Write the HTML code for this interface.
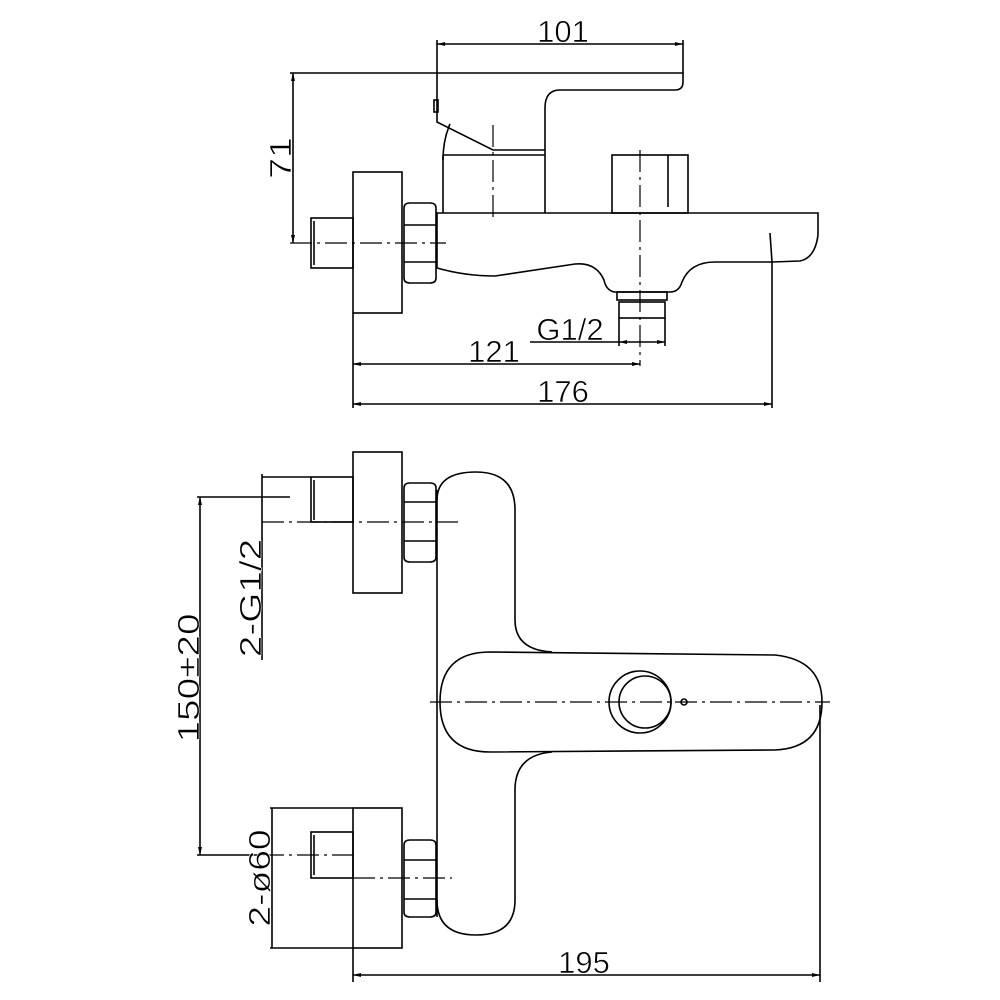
<!DOCTYPE html>
<html><head><meta charset="utf-8"><style>
html,body{margin:0;padding:0;background:#fff;}
svg{display:block;}
text{font-family:"Liberation Sans",sans-serif;font-size:31px;fill:#000;stroke:#fff;stroke-width:0.6px;}
</style></head><body>
<svg width="1000" height="1000" viewBox="0 0 1000 1000" xmlns="http://www.w3.org/2000/svg">
<g fill="none" stroke="#000" stroke-width="1.6">
<line x1="437" y1="44" x2="683" y2="44"/>
<line x1="437" y1="40" x2="437" y2="73"/>
<line x1="683" y1="40" x2="683" y2="73"/>
<line x1="290" y1="73" x2="437" y2="73"/>
<line x1="293" y1="73" x2="293" y2="243"/>
<path d="M437 73 H683 V82 Q683 90 675 90 H560 Q545 90 545 108 V150"/>
<path d="M437 73 V122 L493 150 H545"/>
<rect x="434" y="100" width="4" height="12"/>
<path d="M450 124 Q443 140 443 160"/>
<line x1="443" y1="155" x2="545" y2="155"/>
<line x1="443" y1="155" x2="443" y2="213"/>
<line x1="545" y1="150" x2="545" y2="213"/>
<rect x="612" y="155" width="76" height="58"/>
<line x1="668" y1="155" x2="668" y2="207"/>
<path d="M437 213 H818 V235 Q815 258 800 261 L772 262 H715 Q690 262 682 282 Q679 292 670 292 H614 Q606 290 604 280 Q596 262 575 264 L495 276 Q465 276 437 268 Z"/>
<line x1="770" y1="233" x2="772" y2="262"/>
<rect x="617" y="292" width="50" height="8"/>
<rect x="619" y="302" width="46" height="16"/>
<rect x="353" y="172" width="49" height="141"/>
<path d="M404 208 Q404 203 410 203 H430 Q436 203 436 208 V278 Q436 283 430 283 H410 Q404 283 404 278 Z"/>
<line x1="404" y1="225" x2="436" y2="225"/>
<line x1="404" y1="262" x2="436" y2="262"/>
<rect x="311" y="218" width="42" height="50"/>
<line x1="314" y1="221" x2="314" y2="265"/>
<line x1="530" y1="342" x2="665" y2="342"/>
<line x1="619" y1="318" x2="619" y2="346"/>
<line x1="665" y1="318" x2="665" y2="346"/>
<line x1="353" y1="364" x2="640" y2="364"/>
<line x1="353" y1="404" x2="772" y2="404"/>
<line x1="353" y1="313" x2="353" y2="408"/>
<line x1="772" y1="262" x2="772" y2="408"/>

<rect x="353" y="452" width="49" height="141"/>
<rect x="311" y="477" width="42" height="45"/>
<line x1="314" y1="480" x2="314" y2="520"/>
<path d="M404 488 Q404 483 410 483 H430 Q436 483 436 488 V557 Q436 562 430 562 H410 Q404 562 404 557 Z"/>
<line x1="404" y1="502" x2="436" y2="502"/>
<line x1="404" y1="541" x2="436" y2="541"/>
<line x1="262" y1="477" x2="311" y2="477"/>
<line x1="262" y1="474" x2="262" y2="660"/>
<line x1="197" y1="497" x2="290" y2="497"/>
<line x1="200" y1="497" x2="200" y2="855"/>
<line x1="197" y1="855" x2="260" y2="855"/>

<rect x="353" y="808" width="49" height="140"/>
<line x1="270" y1="808" x2="353" y2="808"/>
<line x1="270" y1="948" x2="353" y2="948"/>
<line x1="272" y1="808" x2="272" y2="948"/>
<rect x="311" y="832" width="42" height="46"/>
<line x1="314" y1="835" x2="314" y2="875"/>
<path d="M404 845 Q404 840 410 840 H430 Q436 840 436 845 V912 Q436 917 430 917 H410 Q404 917 404 912 Z"/>
<line x1="404" y1="860" x2="436" y2="860"/>
<line x1="404" y1="899" x2="436" y2="899"/>

<line x1="437" y1="490" x2="437" y2="917"/>
<path d="M437 500 Q437 472 476 472 Q515 472 515 510 V620 Q515 650 552 652"/>
<path d="M437 900 Q437 935 476 935 Q515 935 515 900 V790 Q515 755 552 752"/>
<path d="M490 652 L775 655 Q822 660 822 702 Q822 748 775 750 L490 752 Q440 752 440 702 Q440 652 490 652 Z"/>
<circle cx="640" cy="702" r="31"/>
<circle cx="645" cy="702" r="26"/>
<circle cx="684" cy="702" r="3"/>
<line x1="353" y1="948" x2="353" y2="982"/>
<line x1="820" y1="705" x2="820" y2="982"/>
<line x1="353" y1="975" x2="820" y2="975"/>
</g>
<g fill="none" stroke="#000" stroke-width="1.2" stroke-dasharray="22 5 3 5">
<line x1="493" y1="125" x2="493" y2="220"/>
<line x1="640" y1="150" x2="640" y2="366"/>
<line x1="290" y1="243" x2="446" y2="243"/>
<line x1="262" y1="522" x2="458" y2="522"/>
<line x1="262" y1="855" x2="353" y2="855"/>
<line x1="353" y1="878" x2="452" y2="878"/>
<line x1="430" y1="702" x2="830" y2="702"/>
</g>
<g fill="#000">
<path d="M437 44 l8 -2 v4 z"/><path d="M683 44 l-8 -2 v4 z"/>
<path d="M293 73 l-2 8 h4 z"/><path d="M293 243 l-2 -8 h4 z"/>
<path d="M353 364 l8 -2 v4 z"/><path d="M640 364 l-8 -2 v4 z"/>
<path d="M353 404 l8 -2 v4 z"/><path d="M772 404 l-8 -2 v4 z"/>
<path d="M619 342 l8 -2 v4 z"/><path d="M665 342 l-8 -2 v4 z"/>
<path d="M200 497 l-2 8 h4 z"/><path d="M200 855 l-2 -8 h4 z"/>
<path d="M353 975 l8 -2 v4 z"/><path d="M820 975 l-8 -2 v4 z"/>
</g>
<text x="563" y="42" text-anchor="middle">101</text>
<text transform="translate(291,158) rotate(-90) scale(1.2,1)" text-anchor="middle">71</text>
<text x="570" y="340" text-anchor="middle">G1/2</text>
<text x="494" y="362" text-anchor="middle">121</text>
<text x="563" y="402" text-anchor="middle">176</text>
<text transform="translate(261,598) rotate(-90) scale(1.25,1)" text-anchor="middle">2-G1/2</text>
<text transform="translate(199,678) rotate(-90) scale(1.25,1)" text-anchor="middle">150±20</text>
<text transform="translate(270,878) rotate(-90) scale(1.2,1)" text-anchor="middle">2-ø60</text>
<text x="584" y="973" text-anchor="middle">195</text>
</svg>
</body></html>
